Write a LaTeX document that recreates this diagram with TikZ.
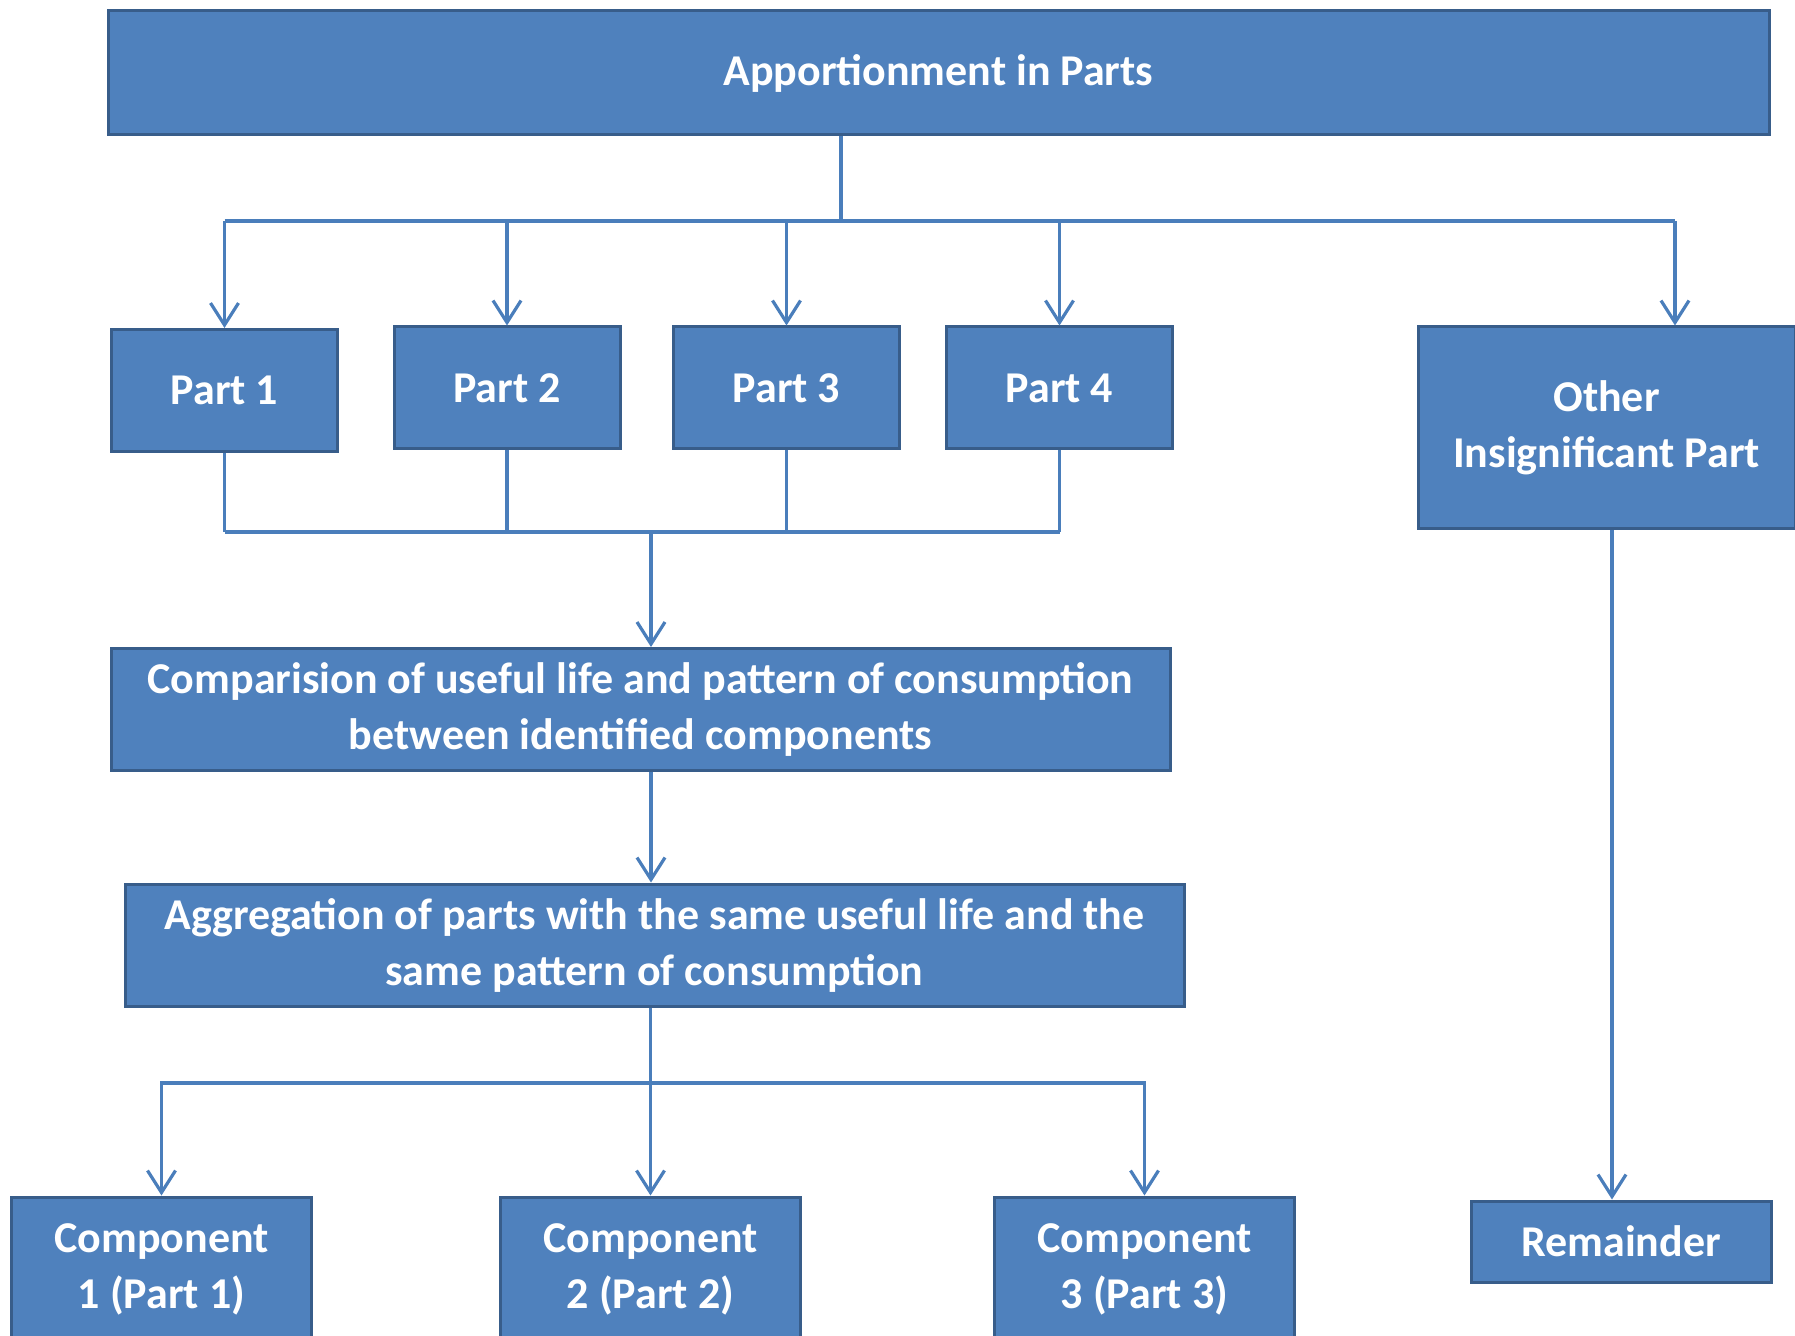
\documentclass[tikz,border=0pt]{standalone}
\usepackage{fontspec}
\setmainfont{Carlito}
\usetikzlibrary{arrows.meta}
\definecolor{boxfill}{RGB}{79,129,189}
\definecolor{boxline}{RGB}{56,93,138}
\definecolor{wire}{RGB}{74,126,187}

\begin{document}
\begin{tikzpicture}[x=0.5pt,y=-0.5pt,
	block/.style={draw=boxline, fill=boxfill, line width=1.5pt, text=white, inner sep=0pt,
		align=center, font=\fontsize{22}{28}\selectfont\bfseries},
	part/.style={block, minimum width=113pt, minimum height=61pt},
	stage/.style={block, minimum width=529.5pt, minimum height=61pt},
	result/.style={block, minimum width=150pt, minimum height=72.5pt},
	link/.style={draw=wire, line width=1.6pt},
	arrow/.style={link, -{Straight Barb[length=11pt,width=14pt]}}]
	\useasboundingbox (0,0) rectangle (1795,1336);

	\node [block, minimum width=830.5pt, minimum height=62pt] (top) at (938.5,73) {Apportionment in Parts};
	\node [part] (p1) at (224.5,390.5) {Part 1};
	\node [part] (p2) at (507,388) {Part 2};
	\node [part] (p3) at (786.5,388) {Part 3};
	\node [part] (p4) at (1059.5,388) {Part 4};
	\node [block, minimum width=188.5pt, minimum height=101pt] (other) at (1606.5,428) {Other\\Insignificant Part};
	\node [stage] (cmp) at (640.5,709.5) {Comparision of useful life and pattern of consumption\\between identified components};
	\node [stage] (agg) at (654.5,945) {Aggregation of parts with the same useful life and the\\same pattern of consumption};
	\node [result] (c1) at (161.5,1269.5) {Component\\1 (Part 1)};
	\node [result] (c2) at (650.5,1269.5) {Component\\2 (Part 2)};
	\node [result] (c3) at (1144.5,1269.5) {Component\\3 (Part 3)};
	\node [block, minimum width=150pt, minimum height=40.5pt] (rem) at (1621,1241.5) {Remainder};

	\coordinate (hub) at (841,221);
	\coordinate (drop) at (1675,221);
	\coordinate (join) at (651,532);
	\coordinate (split) at (651,1083);
	\coordinate (down) at (1612,529);

	\draw [link] (hub |- top.south) -- (hub);
	\draw [link] (p1.north |- hub) -- (drop);
	\foreach \n in {p1,p2,p3,p4}
		\draw [arrow] (\n.north |- hub) -- (\n.north);
	\draw [arrow] (drop) -- (drop |- other.north);

	\foreach \n in {p1,p2,p3,p4}
		\draw [link] (\n.south) -- (\n.south |- join);
	\draw [link] (p1.south |- join) -- (p4.south |- join);
	\draw [arrow] (join) -- (join |- cmp.north);
	\draw [arrow] (join |- cmp.south) -- (join |- agg.north);

	\draw [arrow] (c2.north |- agg.south) -- (c2.north);
	\draw [arrow] (split) -| (c1.north);
	\draw [arrow] (split) -| (c3.north);
	\draw [arrow] (down |- other.south) -- (down |- rem.north);
\end{tikzpicture}
\end{document}
